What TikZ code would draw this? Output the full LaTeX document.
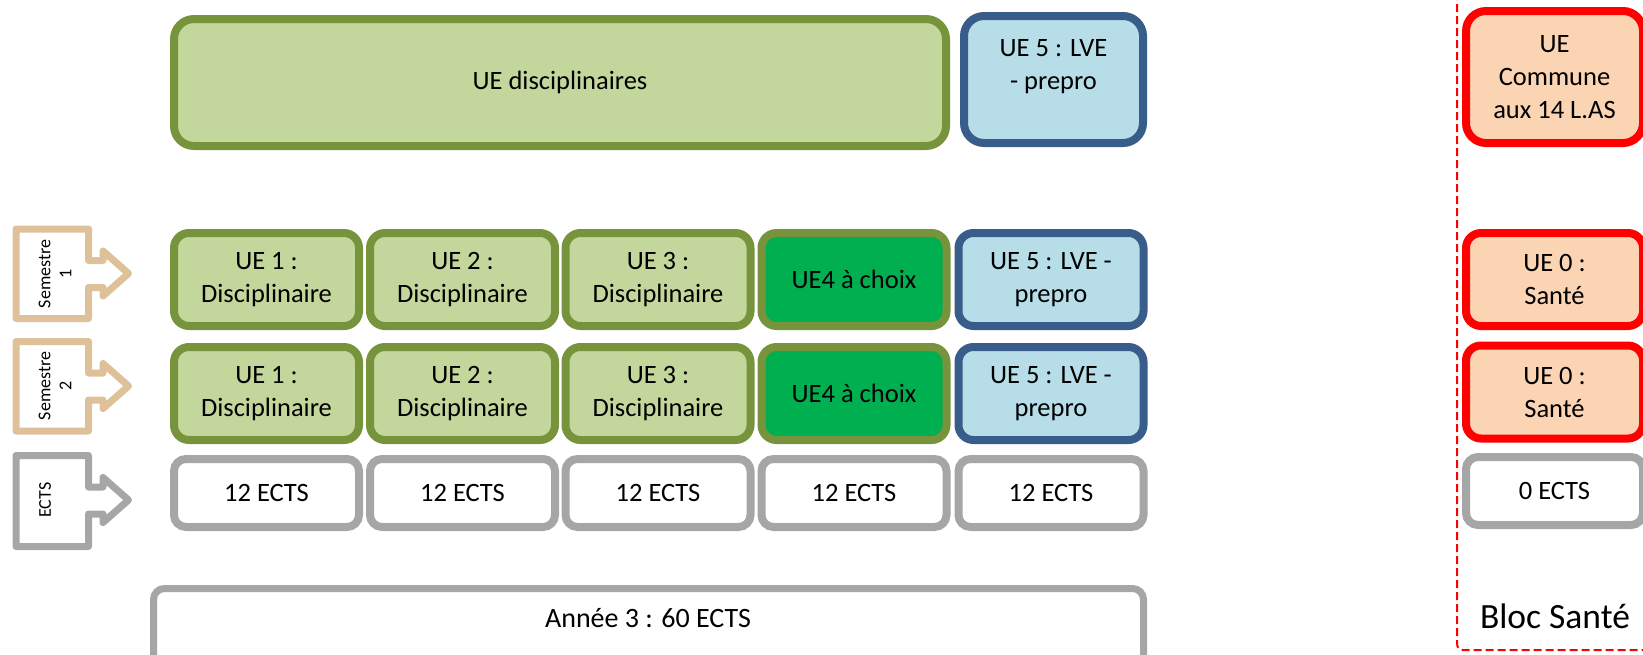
\documentclass[tikz,border=0pt]{standalone}
\usepackage{fontspec}
\setmainfont{Carlito}
\definecolor{cLgreen}{HTML}{C3D69B}
\definecolor{cOlive}{HTML}{77933C}
\definecolor{cVgreen}{HTML}{00B050}
\definecolor{cDblue}{HTML}{385D8A}
\definecolor{cLblue}{HTML}{B7DEE8}
\definecolor{cPeach}{HTML}{FBD4B4}
\definecolor{cGray}{HTML}{A6A6A6}
\definecolor{cTan}{HTML}{DFC199}
\definecolor{cRed}{HTML}{FF0000}
\begin{document}
\begin{tikzpicture}[x=1pt,y=-1pt,
  ubox/.style={rectangle, rounded corners=15pt, line width=8pt, inner sep=0pt, align=center,
    font=\fontsize{26.5}{33}\selectfont, minimum width=185pt, minimum height=93pt},
  gbox/.style={ubox, draw=cOlive, fill=cLgreen},
  cbox/.style={ubox, draw=cOlive, fill=cVgreen},
  bbox/.style={ubox, draw=cDblue, fill=cLblue},
  rbox/.style={ubox, draw=cRed, fill=cPeach, minimum width=177pt},
  ebox/.style={ubox, draw=cGray, fill=white, rounded corners=12pt, minimum height=68pt},
  txt/.style={inner sep=0pt, align=center, font=\fontsize{26.5}{33}\selectfont},
  callout/.style={line width=7pt, line join=round, fill=white},
  ctxt/.style={inner sep=0pt, align=center, rotate=90, font=\fontsize{18}{21}\selectfont}
]
\clip (0,0) rectangle (1643,654);

% top row
\node[gbox, rounded corners=20pt, minimum width=772pt, minimum height=127pt] (disc) at (560,82.5) {UE disciplinaires};
\node[bbox, rounded corners=20pt, minimum width=179pt, minimum height=127pt] (lvetop) at (1053.5,79.5) {};
\node[txt] (lvetoptxt) at (1053.5,67) {UE 5 : LVE\\- prepro};

% callouts
\foreach \T/\H/\C in {229/89.5/cTan, 341.5/89.5/cTan, 455.5/91/cGray}{
  \draw[callout, draw=\C]
    (16,\T) -- (88.5,\T) -- (88.5,\T+31.5) -- (103,\T+31.5) -- (103,\T+22) -- (128.5,\T+44.5)
    -- (103,\T+67) -- (103,\T+58.5) -- (88.5,\T+58.5) -- (88.5,\T+\H) -- (16,\T+\H) -- cycle;
}
\node[ctxt] (sem1) at (55,274) {Semestre\\1};
\node[ctxt] (sem2) at (55,386) {Semestre\\2};
\node[ctxt] (ects) at (45,500) {ECTS};

% semestre 1
\node[gbox] (a1) at (266.5,279.5) {UE 1 :\\Disciplinaire};
\node[gbox] (a2) at (462.5,279.5) {UE 2 :\\Disciplinaire};
\node[gbox] (a3) at (658,279.5) {UE 3 :\\Disciplinaire};
\node[cbox] (a4) at (854,279.5) {UE4 à choix};
\node[bbox] (a5) at (1051,279.5) {UE 5 : LVE -\\prepro};
% semestre 2
\node[gbox] (b1) at (266.5,393.5) {UE 1 :\\Disciplinaire};
\node[gbox] (b2) at (462.5,393.5) {UE 2 :\\Disciplinaire};
\node[gbox] (b3) at (658,393.5) {UE 3 :\\Disciplinaire};
\node[cbox] (b4) at (854,393.5) {UE4 à choix};
\node[bbox] (b5) at (1051,393.5) {UE 5 : LVE -\\prepro};
% ECTS
\node[ebox] (e1) at (266.5,493) {12 ECTS};
\node[ebox] (e2) at (462.5,493) {12 ECTS};
\node[ebox] (e3) at (658,493) {12 ECTS};
\node[ebox] (e4) at (854,493) {12 ECTS};
\node[ebox] (e5) at (1051,493) {12 ECTS};

% annee
\node[ubox, draw=cGray, fill=white, line width=7pt, rounded corners=11pt, minimum width=990pt, minimum height=88pt] (annee) at (648.5,632.5) {};
\node[inner sep=0pt, font=\fontsize{28}{33}\selectfont] (anneetxt) at (648,618) {Année 3 : 60 ECTS};

% bloc sante
\draw[cRed, line width=2pt, dash pattern=on 8pt off 4pt, rounded corners=6pt] (1457,-20) -- (1457,650) -- (1670,650);
\node[rbox, rounded corners=20pt, minimum height=132pt] (com) at (1554.5,77) {UE\\Commune\\aux 14 L.AS};
\node[rbox] (s1) at (1554.5,279.5) {UE 0 :\\Santé};
\node[rbox] (s2) at (1554.5,392) {UE 0 :\\Santé};
\node[ebox, minimum width=177pt] (s3) at (1554.5,491) {0 ECTS};
\node[inner sep=0pt, font=\fontsize{35.5}{40}\selectfont] (bloc) at (1555,616) {Bloc Santé};
\end{tikzpicture}
\end{document}
